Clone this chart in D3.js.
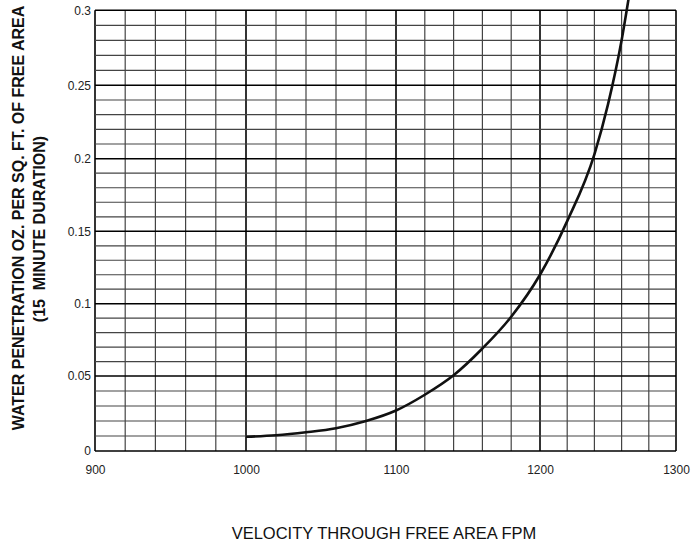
<!DOCTYPE html>
<html lang="en">
<head>
<meta charset="utf-8">
<title>Water penetration vs velocity</title>
<script src="https://d3js.org/d3.v7.min.js"></script>
<style>
  body { margin: 0; background: #fff; }
  svg { display: block; font-family: "Liberation Sans", Arial, sans-serif; }
  .minor { stroke: #444; stroke-width: 1.2px; }
  .major { stroke: #000; stroke-width: 1.6px; }
  .tick-label { font-size: 12px; fill: #222; }
  .y-title { font-size: 16px; font-weight: bold; fill: #111; }
  .x-title { font-size: 16.5px; fill: #111; }
  .curve { fill: none; stroke: #111; stroke-width: 2.6px; }
</style>
</head>
<body>
<script>
// curve (velocity fpm -> oz per sq ft)
var velocity    = [1000, 1020, 1040, 1060, 1080, 1100, 1120, 1140, 1160, 1180, 1200, 1220, 1240, 1250, 1260, 1265];
var penetration = [0.0095, 0.0105, 0.0125, 0.0152, 0.020, 0.027, 0.0375, 0.0505, 0.069, 0.091, 0.120, 0.157, 0.203, 0.237, 0.280, 0.307];

var xTicks = [900, 1000, 1100, 1200, 1300];
var yTicks = [0, 0.05, 0.1, 0.15, 0.2, 0.25, 0.3];
var yTickLabels = ['0', '0.05', '0.1', '0.15', '0.2', '0.25', '0.3'];
var yTitle = ['WATER PENETRATION OZ. PER SQ. FT. OF FREE AREA', '(15\u00a0\u00a0MINUTE DURATION)'];
var xTitle = 'VELOCITY THROUGH FREE AREA FPM';

var width = 697, height = 544;

var svg = d3.select('body').append('svg')
  .attr('width', width)
  .attr('height', height);

// the printed grid is not quite even, so calibrate the scales at each major tick
var x = d3.scaleLinear().domain(xTicks).range([95, 246, 396, 540, 676]);
var y = d3.scaleLinear().domain(yTicks).range([451, 376, 303.7, 231.3, 158.7, 85.3, 10.3]);

var x0 = x(900), x1 = x(1300), y0 = y(0), y1 = y(0.3);

// minor grid every 20 fpm / 0.01 oz
var gx = d3.range(900, 1301, 20);
var gy = d3.range(0, 31).map(function(d) { return d / 100; });

var grid = svg.append('g');

grid.selectAll('.vline')
  .data(gx)
  .enter().append('line')
  .attr('class', function(d) { return d % 100 === 0 ? 'major' : 'minor'; })
  .attr('x1', function(d) { return x(d); })
  .attr('x2', function(d) { return x(d); })
  .attr('y1', y0)
  .attr('y2', y1);

grid.selectAll('.hline')
  .data(gy)
  .enter().append('line')
  .attr('class', function(d) { return Math.round(d * 100) % 5 === 0 ? 'major' : 'minor'; })
  .attr('x1', x0)
  .attr('x2', x1)
  .attr('y1', function(d) { return y(d); })
  .attr('y2', function(d) { return y(d); });

// tick labels through the axis generators
var xAxis = svg.append('g')
  .attr('transform', 'translate(0,' + y0 + ')')
  .call(d3.axisBottom(x).tickValues(xTicks).tickSize(0).tickPadding(14).tickFormat(d3.format('d')));

var yAxis = svg.append('g')
  .attr('transform', 'translate(' + x0 + ',0)')
  .call(d3.axisLeft(y).tickValues(yTicks).tickSize(0).tickPadding(4)
    .tickFormat(function(d, i) { return yTickLabels[i]; }));

[xAxis, yAxis].forEach(function(a) {
  a.select('.domain').remove();
  a.selectAll('text')
    .attr('class', 'tick-label')
    .attr('fill', null);
  a.attr('font-family', null).attr('font-size', null);
});

// the curve
var line = d3.line()
  .x(function(d, i) { return x(velocity[i]); })
  .y(function(d) { return y(d); })
  .curve(d3.curveMonotoneX);

svg.append('path')
  .attr('class', 'curve')
  .attr('d', line(penetration));

// axis titles
svg.append('text')
  .attr('class', 'y-title')
  .attr('text-anchor', 'middle')
  .attr('transform', 'translate(24,218) rotate(-90)')
  .text(yTitle[0]);

svg.append('text')
  .attr('class', 'y-title')
  .attr('text-anchor', 'middle')
  .attr('transform', 'translate(45,229) rotate(-90)')
  .text(yTitle[1]);

svg.append('text')
  .attr('class', 'x-title')
  .attr('text-anchor', 'middle')
  .attr('x', 384)
  .attr('y', 539)
  .text(xTitle);
</script>
</body>
</html>
